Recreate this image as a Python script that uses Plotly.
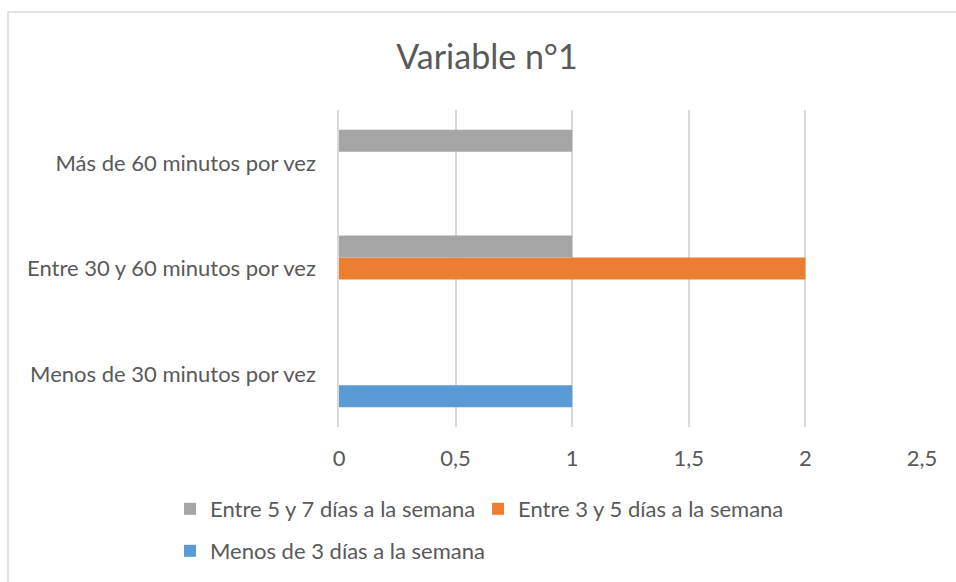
import plotly.graph_objects as go

categories = [
    "Menos de 30 minutos por vez",
    "Entre 30 y 60 minutos por vez",
    "Más de 60 minutos por vez",
]
menos_3 = [1, 0, 0]
entre_3_5 = [0, 2, 0]
entre_5_7 = [0, 1, 1]
tick_vals = [0, 0.5, 1, 1.5, 2, 2.5]

TEXT = "#595959"
GRID = "#D9D9D9"
W, H = 956, 582
L, R, T, B = 339, 34, 110, 155
PW, PH = W - L - R, H - T - B

fig = go.Figure()
fig.add_trace(go.Bar(y=categories, x=menos_3, orientation="h", name="Menos de 3 días a la semana",
                     marker=dict(color="#5B9BD5", line=dict(width=0)),
                     legend="legend3", showlegend=True))
fig.add_trace(go.Bar(y=categories, x=entre_3_5, orientation="h", name="Entre 3 y 5 días a la semana",
                     marker=dict(color="#ED7D31", line=dict(width=0)),
                     legend="legend2", showlegend=True))
fig.add_trace(go.Bar(y=categories, x=entre_5_7, orientation="h", name="Entre 5 y 7 días a la semana",
                     marker=dict(color="#A5A5A5", line=dict(width=0)),
                     legend="legend", showlegend=True))

# light frame around the chart (only top/left visible in the crop)
fig.add_shape(type="rect", xref="paper", yref="paper",
              x0=(8 - L) / PW, x1=1.3, y0=-1, y1=(H - B - 12) / PH,
              line=dict(color=GRID, width=1.5), layer="below")


def legend_at(x, y):
    return dict(orientation="h", xref="container", yref="container",
                x=x / W, y=1 - y / H, xanchor="left", yanchor="top",
                font=dict(size=22, color=TEXT), bgcolor="rgba(0,0,0,0)")


fig.update_layout(
    width=W, height=H,
    showlegend=True,
    margin=dict(l=L, r=R, t=T, b=B),
    paper_bgcolor="white", plot_bgcolor="white",
    font=dict(family="Lato, sans-serif", color=TEXT, size=22),
    separators=", ",
    barmode="group", bargap=0.375, bargroupgap=0,
    title=dict(text="Variable n°1", x=487 / W, xref="container", xanchor="center",
               y=1 - 57 / H, yref="container", yanchor="middle",
               font=dict(size=34, color=TEXT)),
    legend=legend_at(170, 488),
    legend2=legend_at(478, 488),
    legend3=legend_at(170, 530),
    xaxis=dict(range=[0, 2.5], tickvals=tick_vals, showgrid=True, gridcolor=GRID, gridwidth=1.5,
               zeroline=False, showline=False, ticks="", ticklabelstandoff=16,
               tickfont=dict(size=22, color=TEXT)),
    # the y axis line stands in for the gridline at 0
    yaxis=dict(showgrid=False, zeroline=False, showline=True, linecolor=GRID, linewidth=1.5,
               ticks="", ticklabelstandoff=17, tickfont=dict(size=22, color=TEXT)),
)

fig.write_html("out.html", config={"displayModeBar": False},
               post_script="document.body.style.margin='0';")
